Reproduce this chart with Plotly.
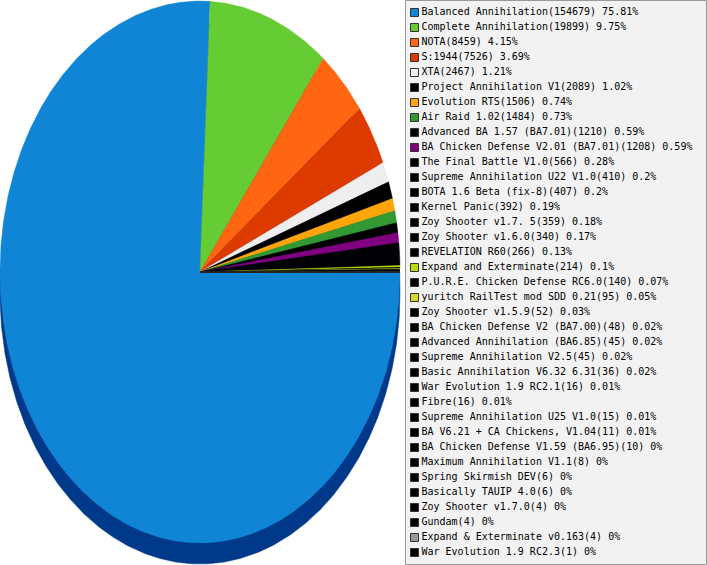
import numpy as np
import plotly.graph_objects as go

names = [
    "Balanced Annihilation", "Complete Annihilation", "NOTA", "S:1944", "XTA",
    "Project Annihilation V1", "Evolution RTS", "Air Raid 1.02", "Advanced BA 1.57 (BA7.01)",
    "BA Chicken Defense V2.01 (BA7.01)", "The Final Battle V1.0", "Supreme Annihilation U22 V1.0",
    "BOTA 1.6 Beta (fix-8)", "Kernel Panic", "Zoy Shooter v1.7. 5", "Zoy Shooter v1.6.0",
    "REVELATION R60", "Expand and Exterminate", "P.U.R.E. Chicken Defense RC6.0",
    "yuritch RailTest mod SDD 0.21", "Zoy Shooter v1.5.9", "BA Chicken Defense V2 (BA7.00)",
    "Advanced Annihilation (BA6.85)", "Supreme Annihilation V2.5", "Basic Annihilation V6.32 6.31",
    "War Evolution 1.9 RC2.1", "Fibre", "Supreme Annihilation U25 V1.0",
    "BA V6.21 + CA Chickens, V1.04", "BA Chicken Defense V1.59 (BA6.95)",
    "Maximum Annihilation V1.1", "Spring Skirmish DEV", "Basically TAUIP 4.0",
    "Zoy Shooter v1.7.0", "Gundam", "Expand & Exterminate v0.163", "War Evolution 1.9 RC2.3",
]
counts = [
    154679, 19899, 8459, 7526, 2467, 2089, 1506, 1484, 1210, 1208, 566, 410, 407, 392,
    359, 340, 266, 214, 140, 95, 52, 48, 45, 45, 36, 16, 16, 15, 11, 10, 8, 6, 6, 4, 4, 4, 1,
]
percents = [
    "75.81", "9.75", "4.15", "3.69", "1.21", "1.02", "0.74", "0.73", "0.59", "0.59",
    "0.28", "0.2", "0.2", "0.19", "0.18", "0.17", "0.13", "0.1", "0.07", "0.05", "0.03",
    "0.02", "0.02", "0.02", "0.02", "0.01", "0.01", "0.01", "0.01", "0", "0", "0", "0",
    "0", "0", "0", "0",
]
colors = [
    "#1085d6", "#66cc33", "#ff6611", "#dd3a00", "#eeeeee", "#000000", "#ffa50a", "#339933",
    "#000000", "#800080", "#000000", "#000000", "#000000", "#000000", "#000000", "#000000",
    "#000000", "#bbdd00", "#000000", "#d8d82a", "#000000", "#000000", "#000000", "#000000",
    "#000000", "#000000", "#000000", "#000000", "#000000", "#000000", "#000000", "#000000",
    "#000000", "#000000", "#000000", "#999999", "#000000",
]

W, H = 707, 565
CX, CY, RX, RY, DEPTH = 200.0, 272.0, 200.0, 271.0, 21.0
DEPTH_COLOR = "#00388a"

fig = go.Figure()

# 3D side (depth) of the pie
t = np.linspace(0, 2 * np.pi, 721)
fig.add_trace(go.Scatter(
    x=CX + RX * np.cos(t), y=CY + DEPTH + RY * np.sin(t),
    mode="lines", fill="toself", fillcolor=DEPTH_COLOR,
    line=dict(color=DEPTH_COLOR, width=0.5), hoverinfo="skip", showlegend=False,
))

# slices
total = float(sum(counts))
start = 0.0
for name, c, col in zip(names, counts, colors):
    frac = c / total
    a0, a1 = start * 2 * np.pi, (start + frac) * 2 * np.pi
    n = max(2, int(np.ceil(frac * 1440)))
    ang = np.linspace(a0, a1, n)
    xs = np.concatenate([[CX], CX + RX * np.cos(ang), [CX]])
    ys = np.concatenate([[CY], CY + RY * np.sin(ang), [CY]])
    fig.add_trace(go.Scatter(
        x=xs, y=ys, mode="lines", fill="toself", fillcolor=col,
        line=dict(color=col, width=0.4), hoverinfo="skip", showlegend=False,
    ))
    start += frac

# legend (drawn manually: compact 15px rows)
rows = np.arange(len(names))
ly = 12.5 + 15 * rows
labels = [f"{n}({c}) {p}%" for n, c, p in zip(names, counts, percents)]
fig.add_trace(go.Scatter(
    x=[414.5] * len(names), y=ly, mode="markers",
    marker=dict(symbol="square", size=8, color=colors, line=dict(color="#333333", width=1)),
    hoverinfo="skip", showlegend=False,
))
fig.add_trace(go.Scatter(
    x=[421.5] * len(names), y=ly, mode="text", text=labels, textposition="middle right",
    textfont=dict(family="DejaVu Sans Mono", size=10, color="#000000"),
    hoverinfo="skip", showlegend=False,
))

fig.update_layout(
    width=W, height=H, autosize=False,
    margin=dict(l=0, r=0, t=0, b=0, pad=0),
    paper_bgcolor="white", plot_bgcolor="white",
    xaxis=dict(range=[0, W], visible=False, fixedrange=True),
    yaxis=dict(range=[H, 0], visible=False, fixedrange=True),
    shapes=[dict(type="rect", xref="x", yref="y", x0=405.5, x1=706.5, y0=0.5, y1=564.5,
                 fillcolor="#f2f2f2", line=dict(color="#999999", width=1), layer="below")],
    showlegend=False,
)

fig.write_html(
    "out.html",
    config={"displayModeBar": False, "staticPlot": True},
    post_script="document.body.style.margin='0';document.body.style.overflow='hidden';",
)
